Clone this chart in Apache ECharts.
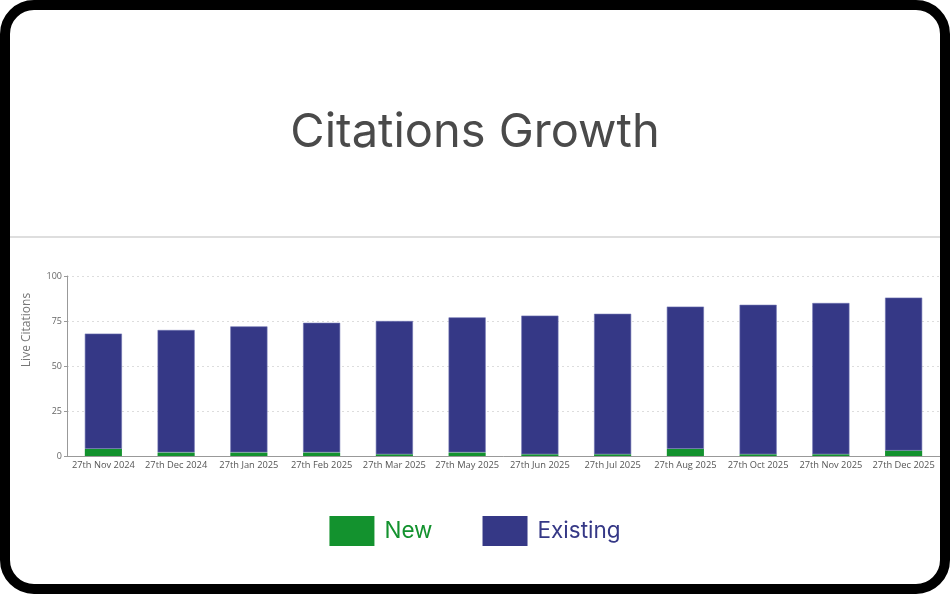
<!DOCTYPE html>
<html>
<head>
<meta charset="utf-8">
<script src="https://cdn.jsdelivr.net/npm/echarts@6/dist/echarts.min.js"></script>
<style>
  html, body { margin: 0; padding: 0; background: #fff; }
  #frame {
    position: absolute; left: 0; top: 0;
    width: 950px; height: 594px;
    box-sizing: border-box;
    border: 10px solid #000;
    border-radius: 34px;
    overflow: hidden;
    background: #fff;
  }
  #chart { width: 930px; height: 574px; }
</style>
</head>
<body>
<div id="frame"><div id="chart"></div></div>
<script>
// months shown on the x axis
var months = ['27th Nov 2024', '27th Dec 2024', '27th Jan 2025', '27th Feb 2025',
  '27th Mar 2025', '27th May 2025', '27th Jun 2025', '27th Jul 2025',
  '27th Aug 2025', '27th Oct 2025', '27th Nov 2025', '27th Dec 2025'];
// new citations (green, bottom of stack)
var newCitations = [4, 2, 2, 2, 1, 2, 1, 1, 4, 1, 1, 3];
// existing citations (blue, stacked on top)
var existingCitations = [64, 68, 70, 72, 74, 75, 77, 78, 79, 83, 84, 85];
var yTicks = [0, 25, 50, 75, 100];

var green = '#13922e';
var blue = '#353886';

var myChart = echarts.init(document.getElementById('chart'));
myChart.setOption({
  animation: false,
  title: {
    text: 'Citations Growth',
    left: 'center',
    top: 94,
    textStyle: { fontFamily: 'Inter', fontSize: 47, fontWeight: 'normal', color: '#4a4a4a' }
  },
  graphic: [{
    type: 'rect',
    shape: { x: 0, y: 226, width: 930, height: 2 },
    style: { fill: '#dedede' }
  }],
  legend: {
    bottom: 33,
    left: 'center',
    itemWidth: 45,
    itemHeight: 30,
    itemGap: 50,
    icon: 'rect',
    itemStyle: { borderWidth: 0 },
    textStyle: { fontFamily: 'Inter', fontSize: 22.5, padding: [0, 0, 0, 5] },
    data: [
      { name: 'New', textStyle: { color: green } },
      { name: 'Existing', textStyle: { color: blue } }
    ]
  },
  grid: { left: 57, right: 0, top: 266, bottom: 128 },
  xAxis: {
    type: 'category',
    data: months,
    axisLine: { lineStyle: { color: '#999' } },
    axisTick: { alignWithLabel: true, length: 3, lineStyle: { color: '#999' } },
    axisLabel: { fontFamily: 'Open Sans', fontSize: 9.3, color: '#555', margin: 5, interval: 0 }
  },
  yAxis: {
    type: 'value',
    min: yTicks[0],
    max: yTicks[yTicks.length - 1],
    interval: 25,
    name: 'Live Citations',
    nameLocation: 'middle',
    nameGap: 34,
    nameTextStyle: { fontFamily: 'Open Sans', fontSize: 12, color: '#777', padding: [0, 0, 0, 72] },
    axisLine: { show: true, lineStyle: { color: '#999' } },
    axisTick: { show: true, length: 3, lineStyle: { color: '#999' } },
    axisLabel: { fontFamily: 'Open Sans', fontSize: 9, color: '#666', margin: 5 },
    splitLine: { lineStyle: { color: '#ddd', type: [2, 3] } }
  },
  series: [{
    name: 'New',
    type: 'bar',
    stack: 'total',
    barWidth: '51%',
    itemStyle: { color: green },
    data: newCitations
  }, {
    name: 'Existing',
    type: 'bar',
    stack: 'total',
    barWidth: '51%',
    itemStyle: { color: blue, borderColor: '#6c70b0', borderWidth: 0.6 },
    data: existingCitations
  }]
});
</script>
</body>
</html>
